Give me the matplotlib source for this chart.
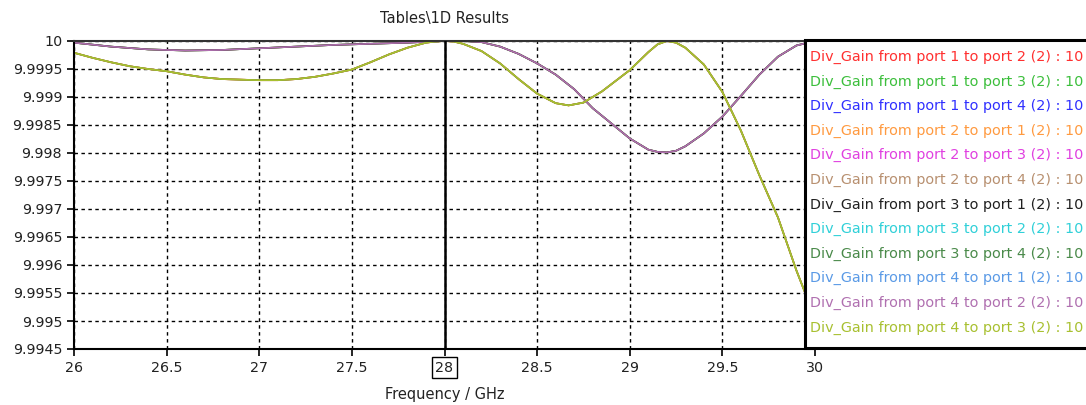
import matplotlib.pyplot as plt
from matplotlib.patches import Rectangle

# frequency sweep (GHz) and divider gain for the two distinct curve shapes
freq_a = [26.0, 26.1, 26.2, 26.3, 26.4, 26.5, 26.6, 26.7, 26.8, 26.9, 27.0,
          27.1, 27.2, 27.3, 27.4, 27.5, 27.6, 27.7, 27.8, 27.9, 27.95, 28.0,
          28.05, 28.1, 28.2, 28.3, 28.4, 28.5, 28.6, 28.67, 28.75, 28.85,
          29.0, 29.1, 29.15, 29.2, 29.25, 29.3, 29.4, 29.5, 29.6, 29.7,
          29.8, 29.9, 30.0]
gain_a = [9.99979, 9.99970, 9.99962, 9.99955, 9.99950, 9.99946, 9.99940,
          9.99935, 9.99932, 9.99931, 9.99930, 9.99930, 9.99932, 9.99936,
          9.99942, 9.99949, 9.99962, 9.99976, 9.99988, 9.99997, 9.99999,
          10.0, 9.99999, 9.99995, 9.99982, 9.99960, 9.99932, 9.99906,
          9.99889, 9.99885, 9.99890, 9.99910, 9.99948, 9.99980, 9.99994,
          10.0, 9.99997, 9.99988, 9.99958, 9.99909, 9.99840, 9.99760,
          9.99685, 9.99590, 9.99505]

freq_b = [26.0, 26.2, 26.4, 26.6, 26.8, 27.0, 27.2, 27.4, 27.6, 27.8, 28.0,
          28.1, 28.2, 28.3, 28.4, 28.5, 28.6, 28.7, 28.8, 28.9, 29.0,
          29.1, 29.15, 29.2, 29.25, 29.3, 29.4, 29.5, 29.6, 29.7, 29.8,
          29.9, 30.0]
gain_b = [9.99997, 9.99990, 9.99985, 9.99983, 9.99984, 9.99987, 9.99990,
          9.99993, 9.99995, 9.99997, 10.0, 10.0, 9.99998, 9.99990, 9.99977,
          9.99960, 9.99940, 9.99914, 9.99880, 9.99853, 9.99826, 9.99806,
          9.99802, 9.99801, 9.99804, 9.99812, 9.99835, 9.99865, 9.99902,
          9.99940, 9.99972, 9.99992, 10.0]

freq_c = [26.0, 30.0]
gain_c = [10.0, 10.0]

labels = [
    "Div_Gain from port 1 to port 2 (2) : 10",
    "Div_Gain from port 1 to port 3 (2) : 10",
    "Div_Gain from port 1 to port 4 (2) : 10",
    "Div_Gain from port 2 to port 1 (2) : 10",
    "Div_Gain from port 2 to port 3 (2) : 10",
    "Div_Gain from port 2 to port 4 (2) : 10",
    "Div_Gain from port 3 to port 1 (2) : 10",
    "Div_Gain from port 3 to port 2 (2) : 10",
    "Div_Gain from port 3 to port 4 (2) : 10",
    "Div_Gain from port 4 to port 1 (2) : 10",
    "Div_Gain from port 4 to port 2 (2) : 10",
    "Div_Gain from port 4 to port 3 (2) : 10",
]
colors = ["#ff3030", "#3cbf3c", "#3030ff", "#ff9a40", "#e040e0", "#b89070",
          "#202020", "#30d0d8", "#4a8a4a", "#5a9ae6", "#b070b0", "#a8c030"]
# which curve each trace follows (a: adjacent ports, b: through, c: flat)
shapes = ["a", "b", "c", "a", "c", "b", "b", "c", "a", "c", "b", "a"]

xticks = [26, 26.5, 27, 27.5, 28, 28.5, 29, 29.5, 30]
xtick_labels = ["26", "26.5", "27", "27.5", "28", "28.5", "29", "29.5", "30"]
yticks = [10.0, 9.9995, 9.999, 9.9985, 9.998, 9.9975, 9.997, 9.9965,
          9.996, 9.9955, 9.995, 9.9945]
ytick_labels = ["10", "9.9995", "9.999", "9.9985", "9.998", "9.9975", "9.997",
                "9.9965", "9.996", "9.9955", "9.995", "9.9945"]
marker_freq = 28

W, H = 1086, 405
fig = plt.figure(figsize=(W / 100, H / 100), dpi=100)
ax = fig.add_axes([74 / W, 1 - 349 / H, (815 - 74) / W, (349 - 41) / H])

curves = {"a": (freq_a, gain_a), "b": (freq_b, gain_b), "c": (freq_c, gain_c)}
for lab, col, shp in zip(labels, colors, shapes):
    fx, gy = curves[shp]
    ax.plot(fx, gy, color=col, lw=1.2, label=lab, zorder=2,
            solid_joinstyle="round")

ax.axvline(marker_freq, color="black", lw=1.8, zorder=3)

ax.set_xlim(26, 30)
ax.set_ylim(9.9945, 10.0)
ax.set_xticks(xticks, xtick_labels)
ax.set_yticks(yticks, ytick_labels)
ax.tick_params(direction="out", length=5, width=1.2, labelsize=10.3,
               colors="black", labelcolor="#222222")
ax.grid(True, color="black", lw=1.0, linestyle=(0, (2.5, 2.5)), zorder=1)
ax.set_axisbelow(True)

for lbl in ax.get_xticklabels():
    if lbl.get_text() == "28":
        lbl.set_bbox(dict(facecolor="white", edgecolor="black", lw=1.0, pad=2.5))

for side in ["left", "bottom"]:
    ax.spines[side].set_linewidth(1.5)
    ax.spines[side].set_color("black")
ax.spines["top"].set_linewidth(1.5)
ax.spines["top"].set_color("#333333")
ax.spines["right"].set_visible(False)

fig.text(445 / W, 1 - 19 / H, "Tables\\1D Results", ha="center", va="center",
         fontsize=10.5, color="#222222")
fig.text(445 / W, 1 - 394 / H, "Frequency / GHz", ha="center", va="center",
         fontsize=10.5, color="#222222")

# legend panel on the right
fig.add_artist(Rectangle((805 / W, 1 - 348 / H), 400 / W, (348 - 40) / H,
                         transform=fig.transFigure, facecolor="white",
                         edgecolor="black", lw=2.2, zorder=5))
for i, (lab, col) in enumerate(zip(labels, colors)):
    y = 57 + i * 24.6
    fig.text(810 / W, 1 - y / H, lab, color=col, fontsize=10.4,
             ha="left", va="center", zorder=6)

fig.savefig("out.png", dpi=100)
